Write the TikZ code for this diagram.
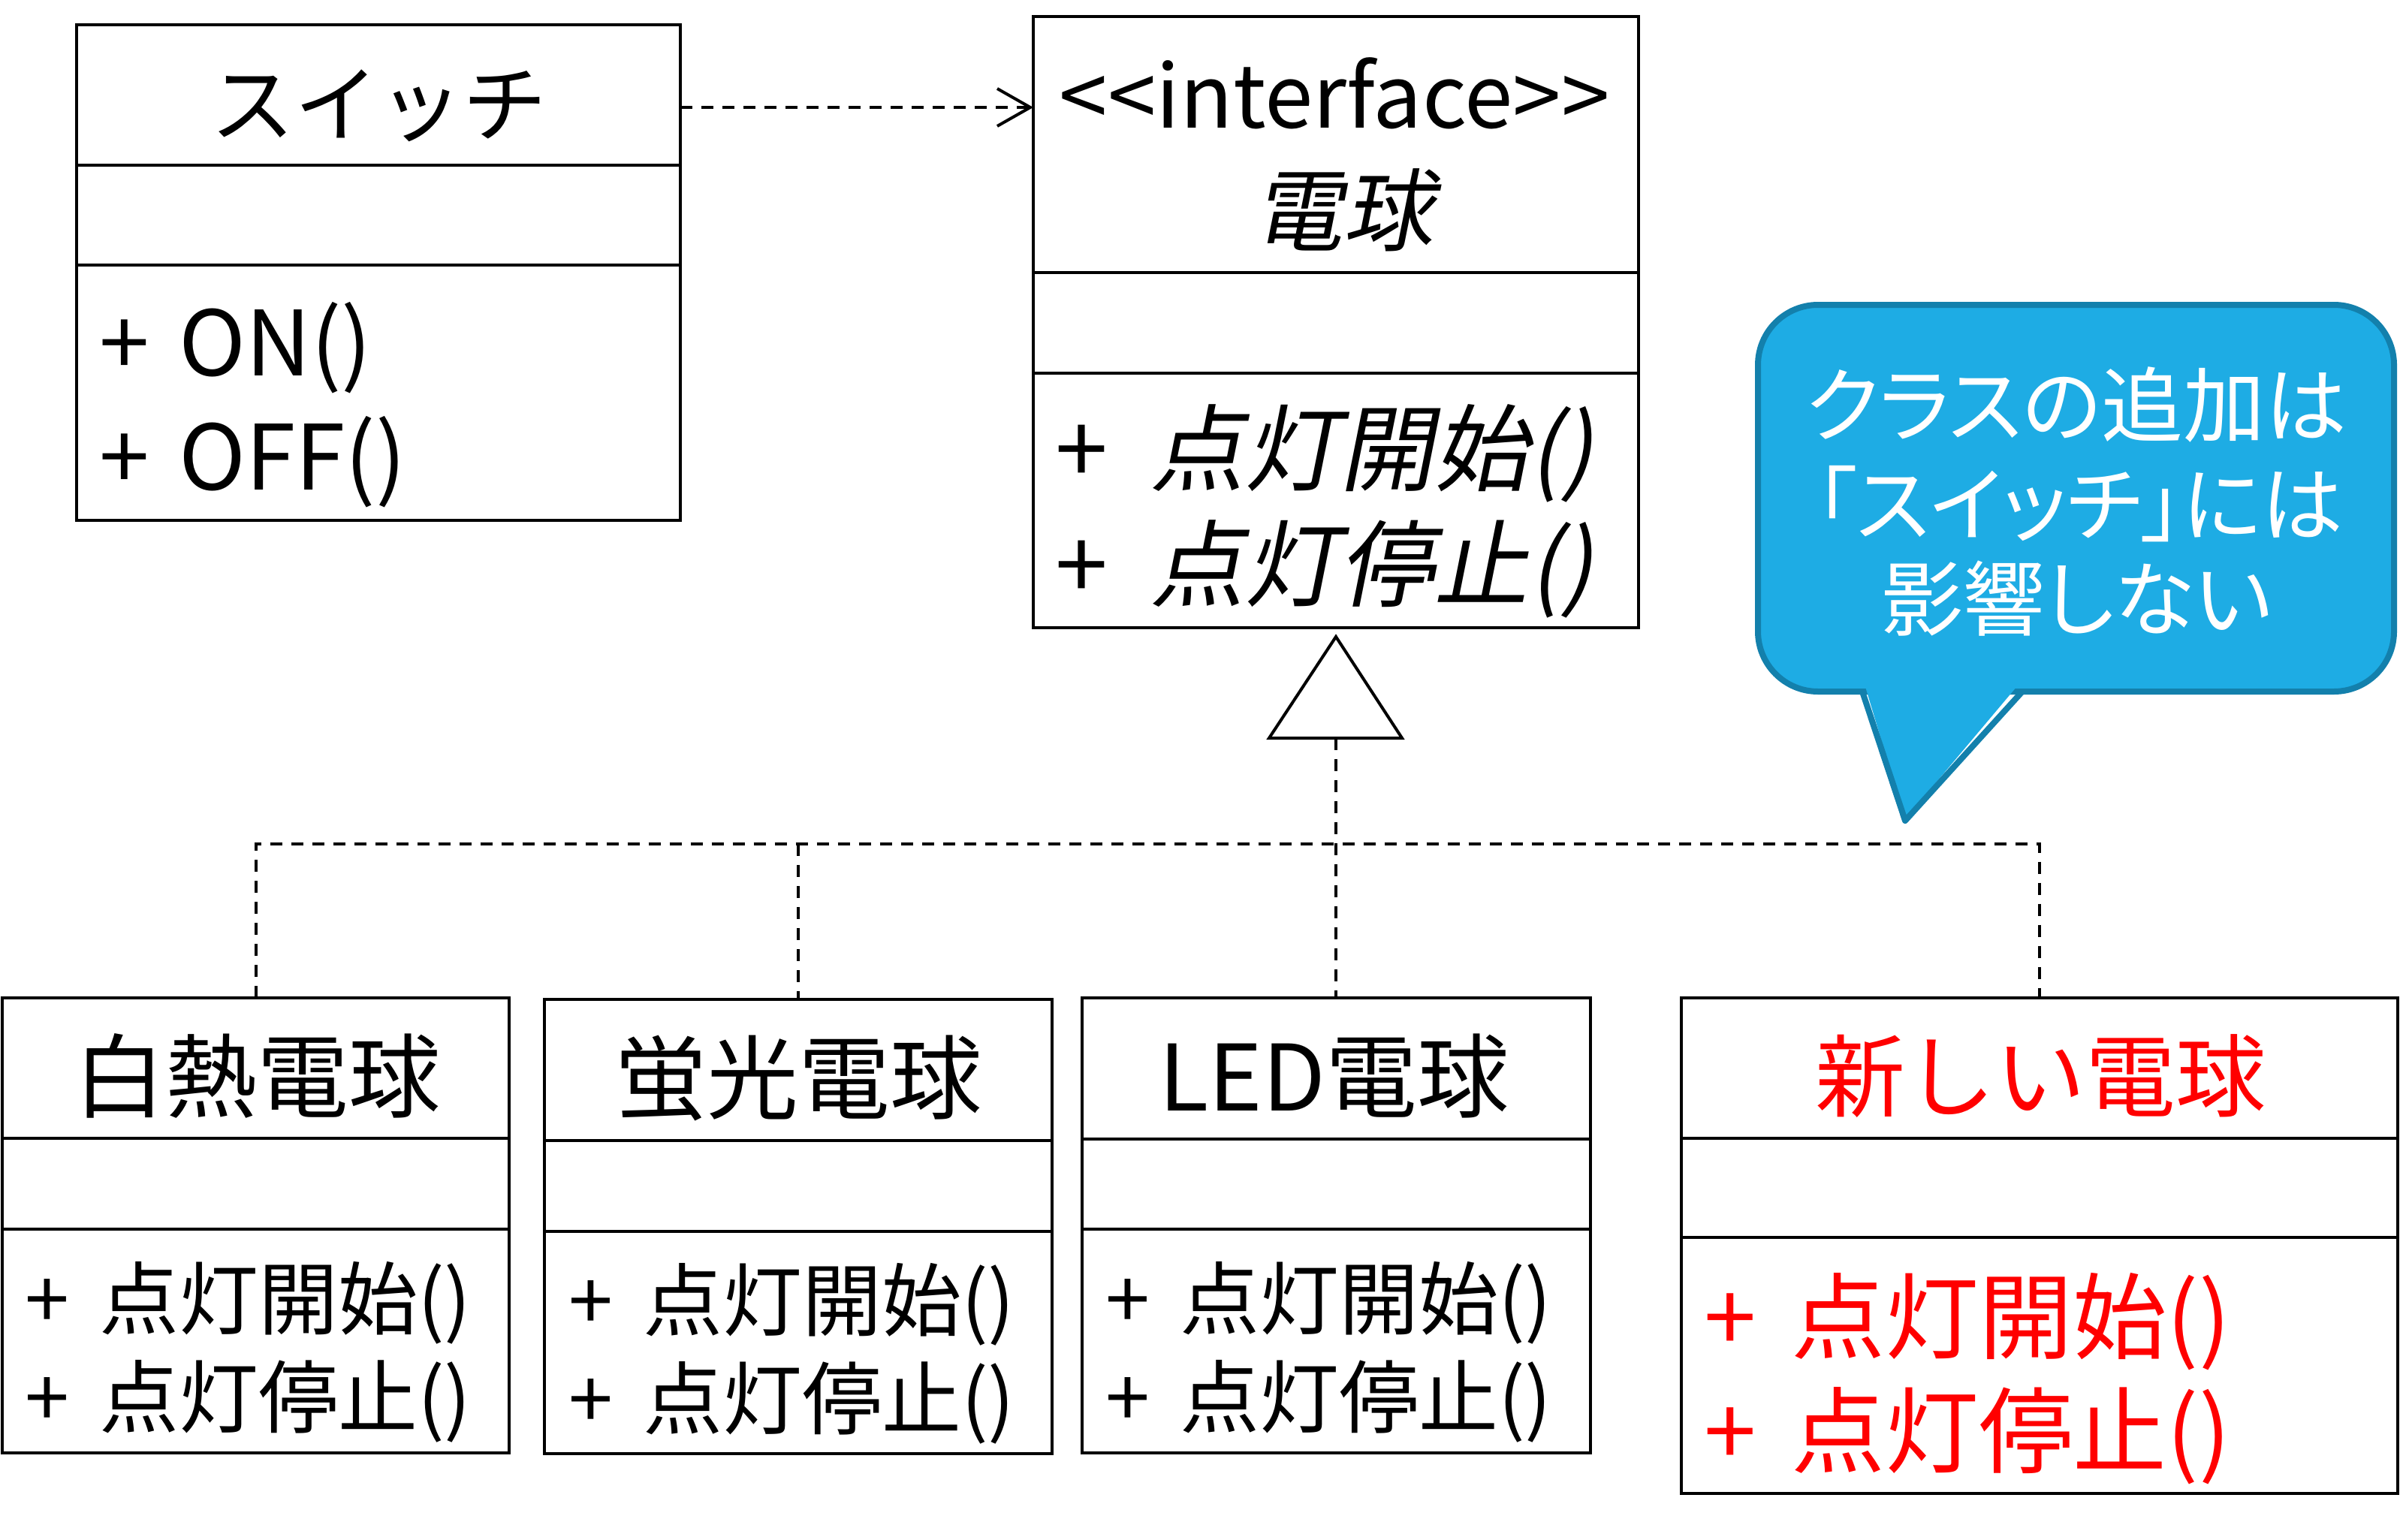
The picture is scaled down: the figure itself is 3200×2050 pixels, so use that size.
\documentclass[tikz,border=0pt]{standalone}
\usepackage{fontspec}
\setmainfont{Noto Sans CJK JP}
\newfontfamily\slfont[FakeSlant=0.2]{Noto Sans CJK JP}
\newfontfamily\pfont[RawFeature=+palt]{Noto Sans CJK JP}
\usetikzlibrary{arrows.meta}
\definecolor{callfill}{HTML}{1EACE4}
\definecolor{calledge}{HTML}{1380AC}
\definecolor{newred}{HTML}{FF0000}
\begin{document}
\begin{tikzpicture}[x=1pt,y=-1pt,
  umlbox/.style={draw, line width=4.5pt, inner sep=0pt, outer sep=0pt},
  divline/.style={line width=4.5pt},
  dep/.style={line width=4pt, dash pattern=on 16pt off 12pt},
  txt/.style={inner sep=0pt, outer sep=0pt},
  ttl/.style={txt, anchor=base, font=\fontsize{122}{140}\selectfont},
  meth/.style={txt, anchor=base west, font=\fontsize{106}{124}\selectfont},
  bigmeth/.style={txt, anchor=base west, font=\fontsize{125}{140}\selectfont},
  calltext/.style={txt, anchor=base, text=white, font=\pfont\fontsize{109}{124}\selectfont}
]
\useasboundingbox (0,0) rectangle (3200,2050);

% ---- Switch class
\node[umlbox, minimum width=804pt, minimum height=660pt] (sw) at (504,363) {};
\draw[divline] (sw.west |- 0,220) -- (sw.east |- 0,220);
\draw[divline] (sw.west |- 0,353) -- (sw.east |- 0,353);
\node[txt, anchor=base, font=\fontsize{112}{130}\selectfont] (swt) at (504,180) {スイッチ};
\node[txt, anchor=base west, font=\fontsize{120}{136}\selectfont] (swm1) at (132,500) {+\hspace{0.33em}ON()};
\node[txt, anchor=base west, font=\fontsize{120}{136}\selectfont] (swm2) at (132,652) {+\hspace{0.33em}OFF()};

% ---- Interface
\node[umlbox, minimum width=806pt, minimum height=814pt] (if) at (1779,429) {};
\draw[divline] (if.west |- 0,363) -- (if.east |- 0,363);
\draw[divline] (if.west |- 0,497) -- (if.east |- 0,497);
\node[txt, anchor=base, font=\fontsize{116}{130}\selectfont] (ift1) at (1777,170) {<{}<interface>{}>};
\node[txt, anchor=base, font=\slfont\fontsize{120}{140}\selectfont] (ift2) at (1788,325) {電球};
\node[txt, anchor=base west, font=\slfont\fontsize{126}{140}\selectfont] (ifm1) at (1405,644) {{\rmfamily +}\hspace{0.45em}点灯開始()};
\node[txt, anchor=base west, font=\slfont\fontsize{126}{140}\selectfont] (ifm2) at (1405,798) {{\rmfamily +}\hspace{0.45em}点灯停止()};

% ---- dependency arrow
\coordinate (depy) at (0,143);
\draw[dep, -{Straight Barb[length=44pt, width=50pt, line width=4pt]}] (sw.east |- depy) -- (if.west |- depy);

% ---- Incandescent
\node[umlbox, minimum width=675pt, minimum height=606pt] (inc) at (340.5,1632) {};
\draw[divline] (inc.west |- 0,1516) -- (inc.east |- 0,1516);
\draw[divline] (inc.west |- 0,1637) -- (inc.east |- 0,1637);
\node[ttl] (inct) at (342,1479) {白熱電球};
\node[meth] (incm1) at (33,1769) {+\hspace{0.38em}点灯開始()};
\node[meth] (incm2) at (33,1900) {+\hspace{0.38em}点灯停止()};

% ---- Fluorescent
\node[umlbox, minimum width=676pt, minimum height=605pt] (flu) at (1063,1633.5) {};
\draw[divline] (flu.west |- 0,1519) -- (flu.east |- 0,1519);
\draw[divline] (flu.west |- 0,1640) -- (flu.east |- 0,1640);
\node[ttl] (flut) at (1063,1481) {蛍光電球};
\node[meth] (flum1) at (757,1771) {+\hspace{0.38em}点灯開始()};
\node[meth] (flum2) at (757,1902) {+\hspace{0.38em}点灯停止()};

% ---- LED
\node[umlbox, minimum width=677pt, minimum height=606pt] (led) at (1779.5,1632) {};
\draw[divline] (led.west |- 0,1517) -- (led.east |- 0,1517);
\draw[divline] (led.west |- 0,1637) -- (led.east |- 0,1637);
\node[ttl] (ledt) at (1776,1479) {LED電球};
\node[meth] (ledm1) at (1472,1769) {+\hspace{0.38em}点灯開始()};
\node[meth] (ledm2) at (1472,1900) {+\hspace{0.38em}点灯停止()};

% ---- New bulb
\node[umlbox, minimum width=954pt, minimum height=660pt] (new) at (2716,1659) {};
\draw[divline] (new.west |- 0,1516) -- (new.east |- 0,1516);
\draw[divline] (new.west |- 0,1648) -- (new.east |- 0,1648);
\node[ttl, text=newred, font=\fontsize{120}{140}\selectfont] (newt) at (2717,1478) {新しい電球};
\node[bigmeth, text=newred] (newm1) at (2269,1800) {+\hspace{0.38em}点灯開始()};
\node[bigmeth, text=newred] (newm2) at (2269,1952) {+\hspace{0.38em}点灯停止()};

% ---- realization
\draw[line width=4pt, fill=white] (1779,848) -- (1690,983) -- (1867,983) -- cycle;
\coordinate (tri) at (1779,983);
\coordinate (jn) at (1779,1124);
\draw[dep] (tri) -- (tri |- led.north);
\draw[dep] (inc.north) -- (inc.north |- jn) -- (new.north |- jn) -- (new.north);
\draw[dep] (flu.north |- jn) -- (flu.north);

% ---- callout
\path[fill=callfill, draw=calledge, line width=8pt, rounded corners=80pt] (2341,406) rectangle (3188,921);
\fill[callfill] (2482,908) -- (2691,908) -- (2537,1091) -- cycle;
\draw[calledge, line width=8pt, line join=round, line cap=round] (2480,921) -- (2537,1093) -- (2693,921);
\node[calltext] (ct1) at (2765,580) {クラスの追加は};
\node[calltext] (ct2) at (2769,712) {「スイッチ」には};
\node[calltext] (ct3) at (2765,838) {影響しない};
\end{tikzpicture}
\end{document}
